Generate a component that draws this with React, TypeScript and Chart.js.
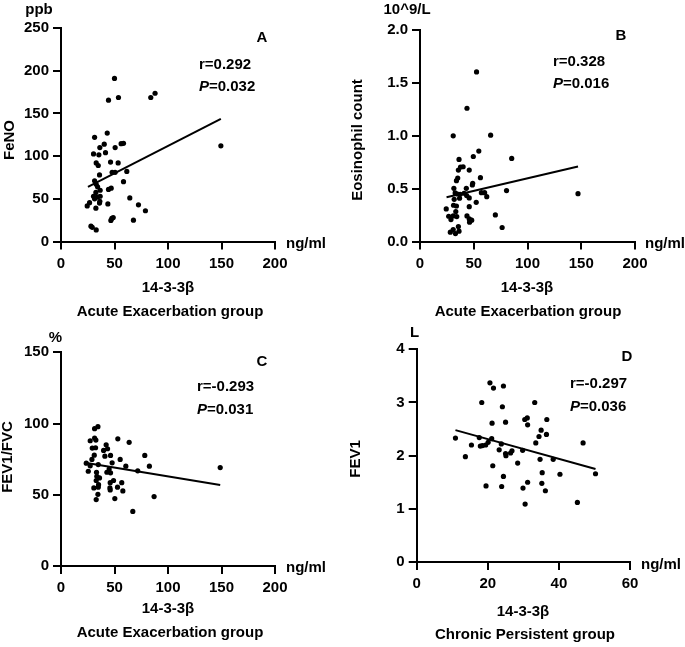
// Four-panel correlation figure: serum 14-3-3β versus FeNO, eosinophil count,
// FEV1/FVC (acute exacerbation group) and FEV1 (chronic persistent group).
// Rendered with Chart.js scatter charts, one canvas per panel (revision 9).
import React, { useEffect, useRef } from 'react';
import { Chart, registerables } from 'chart.js';

Chart.register(...registerables);

const FONT = '"Liberation Sans", Arial, Helvetica, sans-serif';

// ---------- Shared tick values ----------
const acuteXTicks = [0, 50, 100, 150, 200];
const chronicXTicks = [0, 20, 40, 60];

// ---------- Panel A: FeNO (Acute Exacerbation) ----------
const fenoTicks = [0, 50, 100, 150, 200, 250];
const fenoX = [50, 44.4, 53.7, 83.9, 87.9, 149.4, 43.2, 31.4, 40.4, 56.2, 58.4, 36.3, 50.6, 30.4, 35.4, 41.6, 32.9, 34.8, 46.3, 53.4, 36, 47.8, 50.6, 61.5, 58.4, 31.4, 32.9, 34.2, 36.6, 44.4, 46.9, 32.6, 30.4, 34.2, 36.6, 31.4, 36.3, 26.7, 24.5, 43.8, 36, 64.3, 72.4, 78.9, 32.6, 47.5, 48.8, 46.6, 67.7, 28, 29.2, 32.9];
const fenoY = [191, 165.5, 168.6, 168.6, 173.6, 112, 127, 122, 114, 114.6, 115, 110, 110, 102.6, 101.5, 104, 92, 89, 93, 92, 78, 81, 81, 82, 70, 71, 67, 64, 60, 61, 62.5, 57.5, 53, 52, 53, 50, 47, 45.5, 41.7, 44, 45, 51, 43, 36, 39, 27, 28, 24.7, 25, 18, 16.6, 13.5];
const fenoFitX = [25.2, 149.4];
const fenoFitY = [64, 143.5];

// ---------- Panel B: Eosinophil count (Acute Exacerbation) ----------
const eosTicks = [0, 0.5, 1.0, 1.5, 2.0];
const eosX = [52.6, 43.7, 30.9, 65.7, 54.7, 49.6, 85.3, 36.3, 35.7, 37.7, 40.1, 45.8, 35.1, 56.2, 33.9, 49, 48.7, 31.5, 43.1, 57.1, 60.1, 80.5, 147, 32.7, 34.8, 37.4, 41, 43.4, 62.1, 31.8, 36.8, 45.8, 52.3, 31.2, 33.9, 45.8, 24.4, 33.3, 26.7, 30.9, 34.2, 43.7, 28.8, 45.8, 48.1, 46.1, 70.1, 35.7, 28.2, 30.9, 33, 36.3, 76.4];
const eosY = [1.6, 1.257, 0.997, 1.003, 0.853, 0.802, 0.784, 0.774, 0.674, 0.702, 0.705, 0.674, 0.599, 0.602, 0.574, 0.549, 0.533, 0.502, 0.502, 0.461, 0.461, 0.48, 0.451, 0.458, 0.448, 0.445, 0.455, 0.433, 0.423, 0.398, 0.408, 0.411, 0.37, 0.342, 0.335, 0.329, 0.307, 0.282, 0.238, 0.241, 0.235, 0.241, 0.207, 0.213, 0.201, 0.182, 0.251, 0.141, 0.088, 0.113, 0.075, 0.097, 0.132];
const eosFitX = [24.7, 147];
const eosFitY = [0.417, 0.708];

// ---------- Panel C: FEV1/FVC (Acute Exacerbation) ----------
const ratioTicks = [0, 50, 100, 150];
const ratioX = [34.5, 31.4, 53.1, 27.3, 31.4, 32.6, 63.7, 42.2, 29.2, 32.3, 43.5, 39.8, 31.1, 41, 46.3, 78.3, 28.9, 55.3, 23.6, 47.8, 34.8, 27.3, 60.6, 82.6, 148.8, 45, 25.5, 33.2, 42.9, 46.3, 71.7, 33.5, 36, 32.9, 49.1, 46, 56.8, 35.1, 34.8, 52.8, 45.7, 46, 30.7, 57.8, 87, 34.5, 50.3, 32.9, 67.1];
const ratioY = [97.8, 96.4, 89.3, 87.9, 89.8, 88.4, 86.8, 85.1, 82.8, 83, 82.3, 81.1, 77.8, 77.1, 77.6, 77.6, 74.8, 74.8, 72.2, 72.4, 71.2, 70.3, 70.1, 70.1, 69.1, 68, 66.5, 65.8, 65.8, 65.4, 66.8, 63, 61.8, 60, 60, 58.5, 58.5, 57.1, 55.3, 55.3, 54.8, 53.4, 54.8, 52.7, 48.7, 50.3, 47.3, 46.6, 38.3];
const ratioFitX = [22.7, 148.8];
const ratioFitY = [72.4, 56.9];

// ---------- Panel D: FEV1 (Chronic Persistent) ----------
const fev1Ticks = [0, 1, 2, 3, 4];
const fev1X = [20.6, 21.6, 24.4, 18.3, 33.2, 24.1, 30.4, 31.1, 36.6, 25, 21.2, 31.2, 35, 36.5, 34.4, 10.9, 17.6, 21.1, 33.5, 46.8, 15.4, 17.9, 18.5, 19.4, 20.1, 23.8, 23.2, 26.8, 26.4, 25, 25.1, 29.8, 13.7, 28.4, 34.7, 38.4, 21.4, 35.3, 40.3, 50.3, 24.4, 19.5, 23.9, 31.2, 35.2, 29.9, 36.2, 30.5, 45.2];
const fev1Y = [3.37, 3.27, 3.31, 3.0, 3.0, 2.92, 2.68, 2.71, 2.68, 2.63, 2.61, 2.58, 2.48, 2.4, 2.36, 2.33, 2.34, 2.32, 2.24, 2.24, 2.2, 2.18, 2.19, 2.2, 2.25, 2.22, 2.11, 2.09, 2.05, 2.04, 2.0, 2.1, 1.98, 1.86, 1.93, 1.93, 1.81, 1.68, 1.65, 1.66, 1.61, 1.43, 1.42, 1.5, 1.48, 1.39, 1.34, 1.09, 1.12];
const fev1FitX = [10.9, 50.3];
const fev1FitY = [2.48, 1.75];

type Ann = { t: string; x: number; y: number; align?: CanvasTextAlign; rot?: boolean; italicP?: boolean };

type PanelCfg = {
  ox: number; oy: number; w: number; h: number;
  padT: number; padR: number; yW: number; xH: number;
  xTicks: number[]; yTicks: number[]; yDec: number;
  xs: number[]; ys: number[]; fitX: number[]; fitY: number[];
  ann: Ann[];
};

const panels: PanelCfg[] = [
  {
    ox: 0, oy: 0, w: 342, h: 323, padT: 28, padR: 67, yW: 61, xH: 81.5,
    xTicks: acuteXTicks, yTicks: fenoTicks, yDec: 0,
    xs: fenoX, ys: fenoY, fitX: fenoFitX, fitY: fenoFitY,
    ann: [
      { t: 'ppb', x: 39, y: 10 },
      { t: 'A', x: 262, y: 38 },
      { t: 'r=0.292', x: 199, y: 65, align: 'left' },
      { t: 'P=0.032', x: 199, y: 87, italicP: true },
      { t: 'FeNO', x: 10, y: 140, rot: true },
      { t: 'ng/ml', x: 286, y: 244, align: 'left' },
      { t: '14-3-3β', x: 168, y: 288 },
      { t: 'Acute Exacerbation group', x: 170, y: 312 },
    ],
  },
  {
    ox: 342, oy: 0, w: 343, h: 323, padT: 29.5, padR: 50, yW: 78, xH: 81.5,
    xTicks: acuteXTicks, yTicks: eosTicks, yDec: 1,
    xs: eosX, ys: eosY, fitX: eosFitX, fitY: eosFitY,
    ann: [
      { t: '10^9/L', x: 407, y: 10 },
      { t: 'B', x: 621, y: 36 },
      { t: 'r=0.328', x: 553, y: 62, align: 'left' },
      { t: 'P=0.016', x: 553, y: 84, italicP: true },
      { t: 'Eosinophil count', x: 358, y: 140, rot: true },
      { t: 'ng/ml', x: 645, y: 244, align: 'left' },
      { t: '14-3-3β', x: 527, y: 288 },
      { t: 'Acute Exacerbation group', x: 528, y: 312 },
    ],
  },
  {
    ox: 0, oy: 323, w: 342, h: 324, padT: 29.3, padR: 67, yW: 61, xH: 81,
    xTicks: acuteXTicks, yTicks: ratioTicks, yDec: 0,
    xs: ratioX, ys: ratioY, fitX: ratioFitX, fitY: ratioFitY,
    ann: [
      { t: '%', x: 55.5, y: 338 },
      { t: 'C', x: 262, y: 362 },
      { t: 'r=-0.293', x: 197, y: 387, align: 'left' },
      { t: 'P=0.031', x: 197, y: 410, italicP: true },
      { t: 'FEV1/FVC', x: 8, y: 457, rot: true },
      { t: 'ng/ml', x: 286, y: 568, align: 'left' },
      { t: '14-3-3β', x: 168, y: 609 },
      { t: 'Acute Exacerbation group', x: 170, y: 633 },
    ],
  },
  {
    ox: 342, oy: 323, w: 343, h: 324, padT: 26.3, padR: 55, yW: 74.7, xH: 85,
    xTicks: chronicXTicks, yTicks: fev1Ticks, yDec: 0,
    xs: fev1X, ys: fev1Y, fitX: fev1FitX, fitY: fev1FitY,
    ann: [
      { t: 'L', x: 414.5, y: 333 },
      { t: 'D', x: 627, y: 357 },
      { t: 'r=-0.297', x: 570, y: 384, align: 'left' },
      { t: 'P=0.036', x: 570, y: 407, italicP: true },
      { t: 'FEV1', x: 356, y: 459, rot: true },
      { t: 'ng/ml', x: 641, y: 565, align: 'left' },
      { t: '14-3-3β', x: 523, y: 612 },
      { t: 'Chronic Persistent group', x: 525, y: 635 },
    ],
  },
];

const BOLD = `bold 15px ${FONT}`;

function drawAnn(ctx: CanvasRenderingContext2D, a: Ann, ox: number, oy: number) {
  const x = a.x - ox;
  const y = a.y - oy;
  ctx.save();
  ctx.fillStyle = '#000';
  ctx.textBaseline = 'middle';
  if (a.rot) {
    ctx.translate(x, y);
    ctx.rotate(-Math.PI / 2);
    ctx.textAlign = 'center';
    ctx.font = BOLD;
    ctx.fillText(a.t, 0, 0);
  } else if (a.italicP) {
    ctx.textAlign = 'left';
    ctx.font = `italic bold 15px ${FONT}`;
    ctx.fillText(a.t[0], x, y);
    const w = ctx.measureText(a.t[0]).width;
    ctx.font = BOLD;
    ctx.fillText(a.t.slice(1), x + w, y);
  } else {
    ctx.textAlign = a.align ?? 'center';
    ctx.font = BOLD;
    ctx.fillText(a.t, x, y);
  }
  ctx.restore();
}

function makeAxis(ticksArr: number[], pad: number, dec: number, isX: boolean, fitSize: number) {
  return {
    type: 'linear',
    position: isX ? 'bottom' : 'left',
    min: ticksArr[0],
    max: ticksArr[ticksArr.length - 1],
    grid: { display: true, drawOnChartArea: false, drawTicks: true, tickLength: 8, tickWidth: 2, tickColor: '#000', color: '#000', lineWidth: 2 },
    border: { display: true, color: '#000', width: 2 },
    ticks: {
      font: { family: FONT, size: 15, weight: 'bold' },
      color: '#000',
      padding: pad,
      autoSkip: false,
      maxRotation: 0,
      callback: (v: any) => Number(v).toFixed(dec),
    },
    afterBuildTicks: (s: any) => {
      s.ticks = ticksArr.map((v) => ({ value: v }));
    },
    afterFit: (s: any) => {
      if (isX) s.height = fitSize;
      else s.width = fitSize;
    },
  };
}

function Panel({ cfg }: { cfg: PanelCfg }) {
  const ref = useRef<HTMLCanvasElement>(null);
  useEffect(() => {
    const ds: any[] = [
      {
        data: cfg.xs.map((x, i) => ({ x, y: cfg.ys[i] })),
        pointRadius: 2.6,
        pointBackgroundColor: '#000',
        pointBorderWidth: 0,
        backgroundColor: '#000',
        borderColor: '#000',
      },
      {
        data: cfg.fitX.map((x, i) => ({ x, y: cfg.fitY[i] })),
        showLine: true,
        borderColor: '#000',
        borderWidth: 2,
        pointRadius: 0,
        fill: false,
      },
    ];
    const chart = new Chart(ref.current!, {
      type: 'scatter',
      data: { datasets: ds },
      options: {
        animation: false,
        responsive: false,
        maintainAspectRatio: false,
        layout: { padding: { left: 0, top: cfg.padT, right: cfg.padR, bottom: 0 } },
        plugins: { legend: { display: false }, tooltip: { enabled: false } },
        scales: {
          x: makeAxis(cfg.xTicks, 5, 0, true, cfg.xH),
          y: makeAxis(cfg.yTicks, 4, cfg.yDec, false, cfg.yW),
        },
      } as any,
      plugins: [
        {
          id: 'panelText',
          afterDraw(c: any) {
            cfg.ann.forEach((a) => drawAnn(c.ctx, a, cfg.ox, cfg.oy));
          },
        },
      ],
    });
    return () => chart.destroy();
  }, []);
  return (
    <div style={{ position: 'absolute', left: cfg.ox, top: cfg.oy, width: cfg.w, height: cfg.h }}>
      <canvas ref={ref} width={cfg.w} height={cfg.h} style={{ width: cfg.w, height: cfg.h, display: 'block' }} />
    </div>
  );
}

export default function App() {
  return (
    <div style={{ position: 'fixed', left: 0, top: 0, width: 685, height: 647 }}>
      {panels.map((p, i) => (
        <Panel key={i} cfg={p} />
      ))}
    </div>
  );
}
